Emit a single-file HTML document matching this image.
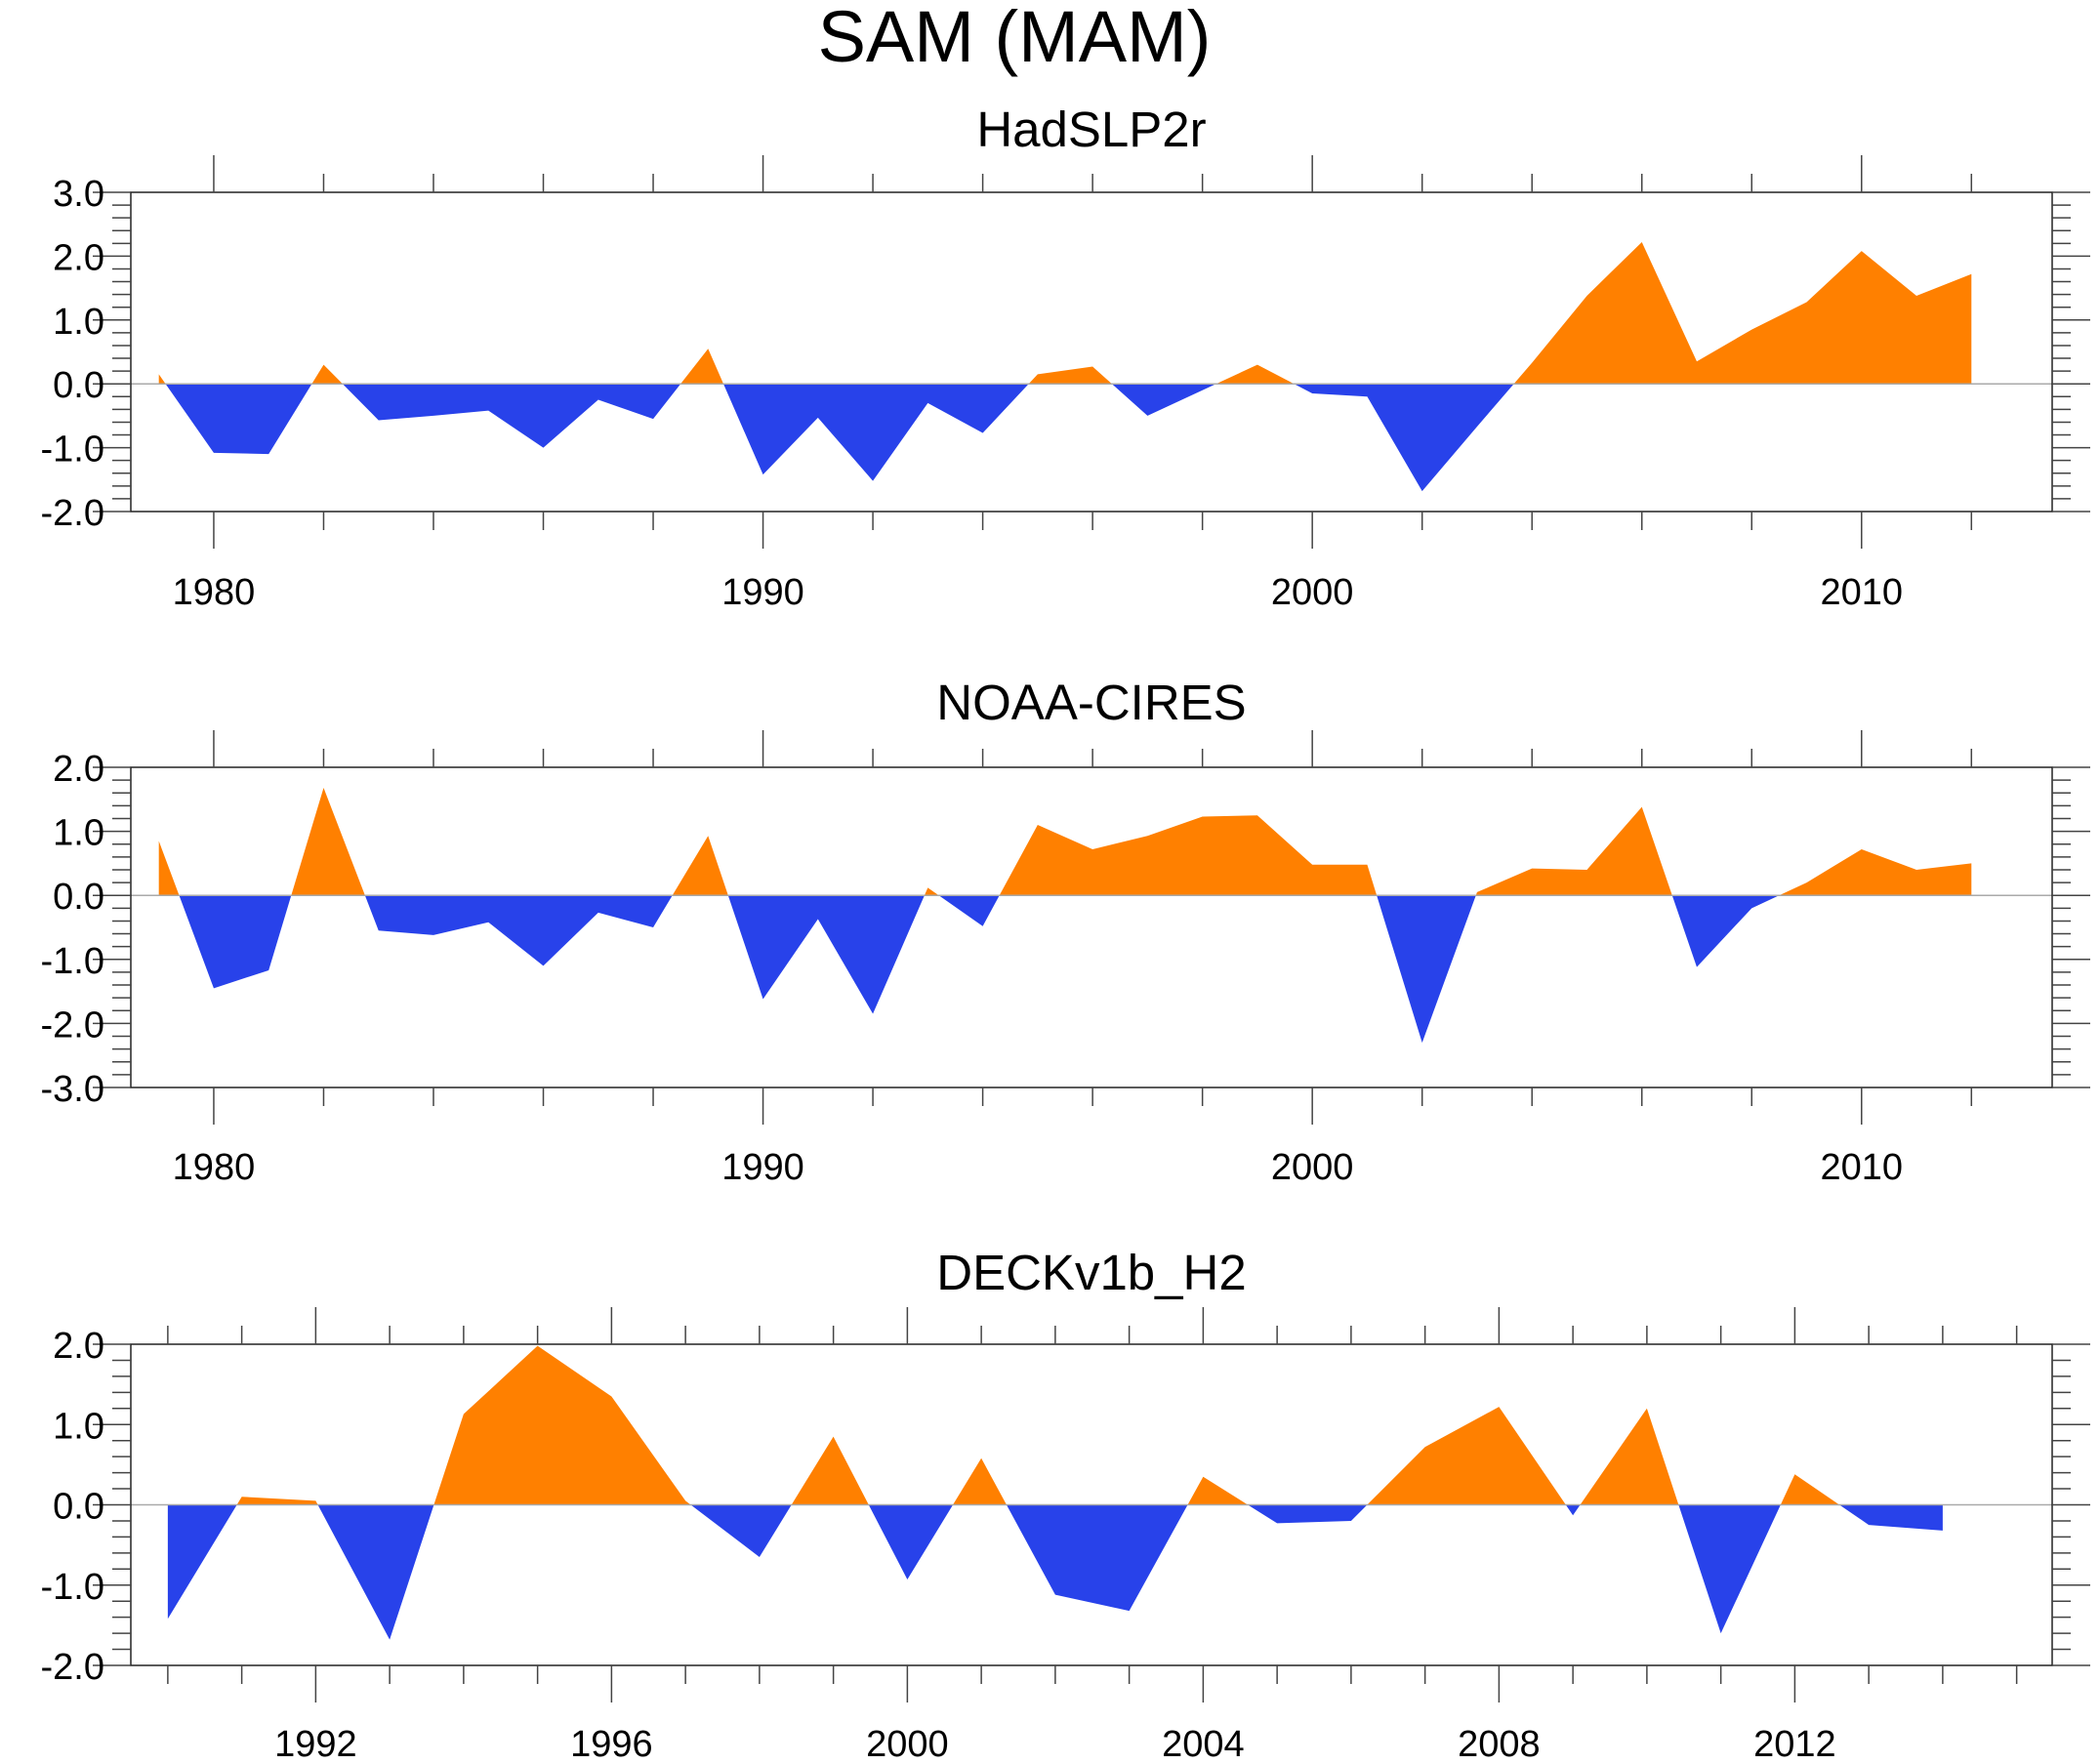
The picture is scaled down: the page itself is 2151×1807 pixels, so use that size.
<!DOCTYPE html>
<html><head><meta charset="utf-8">
<style>
html,body{margin:0;padding:0;background:#fff;}
svg{display:block;font-family:"Liberation Sans",sans-serif;}
</style></head>
<body>
<svg id="chart" width="2151" height="1807" viewBox="0 0 2151 1807" xmlns="http://www.w3.org/2000/svg">
<text x="1039" y="63" font-size="74" text-anchor="middle">SAM (MAM)</text>
</svg>
<script>
const hadYears = [1979,1980,1981,1982,1983,1984,1985,1986,1987,1988,1989,1990,1991,1992,1993,1994,1995,1996,1997,1998,1999,2000,2001,2002,2003,2004,2005,2006,2007,2008,2009,2010,2011,2012];
const hadValues = [0.15,-1.08,-1.1,0.3,-0.57,-0.5,-0.42,-1.0,-0.25,-0.55,0.55,-1.42,-0.53,-1.52,-0.3,-0.77,0.15,0.27,-0.5,-0.1,0.3,-0.15,-0.2,-1.68,-0.67,0.33,1.38,2.22,0.35,0.85,1.28,2.08,1.38,1.72];
const noaaYears = hadYears;
const noaaValues = [0.85,-1.45,-1.17,1.68,-0.55,-0.62,-0.42,-1.1,-0.27,-0.5,0.93,-1.62,-0.37,-1.85,0.12,-0.48,1.1,0.72,0.93,1.23,1.25,0.48,0.48,-2.3,0.05,0.42,0.4,1.38,-1.12,-0.2,0.2,0.72,0.4,0.5];
const deckYears = [1990,1991,1992,1993,1994,1995,1996,1997,1998,1999,2000,2001,2002,2003,2004,2005,2006,2007,2008,2009,2010,2011,2012,2013,2014];
const deckValues = [-1.42,0.1,0.05,-1.68,1.13,1.98,1.35,0.05,-0.65,0.85,-0.93,0.58,-1.12,-1.32,0.35,-0.23,-0.2,0.72,1.22,-0.13,1.2,-1.6,0.38,-0.25,-0.32];
const hadYTicks = [3,2,1,0,-1,-2];
const noaaYTicks = [2,1,0,-1,-2,-3];
const deckYTicks = [2,1,0,-1,-2];
const hadXLabels = [1980,1990,2000,2010];
const deckXLabels = [1992,1996,2000,2004,2008,2012];

const NS='http://www.w3.org/2000/svg';
const svg=document.getElementById('chart');
function mk(tag,attrs,parent){const e=document.createElementNS(NS,tag);for(const k in attrs)e.setAttribute(k,attrs[k]);(parent||svg).appendChild(e);return e;}

function panel(id,title,titleY,top,bottom,xmin,xmax,ymax,ymin,years,vals,yTicks,xLabels,majorStep,minorStep,labelY){
  const L=134,R=2102;
  const g=mk('g',{});
  
  
  const sx=v=>L+(v-xmin)/(xmax-xmin)*(R-L);
  const sy=v=>top+(ymax-v)/(ymax-ymin)*(bottom-top);
  const t=mk('text',{x:1118,y:titleY,'font-size':51,'text-anchor':'middle'},g);
  t.textContent=title;
  
  
  let d='M'+sx(years[0])+','+sy(0);
  for(let i=0;i<years.length;i++)d+=' L'+sx(years[i])+','+sy(vals[i]);
  d+=' L'+sx(years[years.length-1])+','+sy(0)+' Z';
  const cp=mk('clipPath',{id:id+'-pos'},g);mk('rect',{x:L,y:top,width:R-L,height:sy(0)-top},cp);
  const cn=mk('clipPath',{id:id+'-neg'},g);mk('rect',{x:L,y:sy(0),width:R-L,height:bottom-sy(0)},cn);
  const pa=mk('path',{d:d,fill:'#ff8000','clip-path':'url(#'+id+'-pos)'},g);
  
  
  const na=mk('path',{d:d,fill:'#2842ea','clip-path':'url(#'+id+'-neg)'},g);
  
  
  const zl=mk('line',{x1:L,x2:R,y1:sy(0),y2:sy(0),stroke:'#aaa','stroke-width':1.5},g);
  
  
  const fr=mk('rect',{x:L,y:top,width:R-L,height:bottom-top,fill:'none',stroke:'#222','stroke-width':1.5},g);
  
  
  for(let v=ymin;v<=ymax+1e-6;v+=0.2){
    const y=sy(v);const major=Math.abs(v-Math.round(v))<1e-6;const len=major?39:19;
    mk('line',{x1:L-len,x2:L,y1:y,y2:y,stroke:'#444','stroke-width':1.5},g);
    mk('line',{x1:R,x2:R+len,y1:y,y2:y,stroke:'#444','stroke-width':1.5},g);
  }
  yTicks.forEach(v=>{
    const tl=mk('text',{x:107,y:sy(v)+14,'font-size':38,'text-anchor':'end'},g);
    tl.textContent=v.toFixed(1);
    
    
  });
  for(let yr=Math.ceil(xmin);yr<=xmax;yr++){
    if((yr%minorStep)!==0)continue;
    const x=sx(yr);const major=(yr%majorStep)===0;const len=major?38:19;
    mk('line',{x1:x,x2:x,y1:top-len,y2:top,stroke:'#444','stroke-width':1.5},g);
    mk('line',{x1:x,x2:x,y1:bottom,y2:bottom+len,stroke:'#444','stroke-width':1.5},g);
  }
  xLabels.forEach(v=>{
    const xl=mk('text',{x:sx(v),y:labelY,'font-size':38,'text-anchor':'middle'},g);
    xl.textContent=v;
    
    
  });
}
panel('hadslp2r','HadSLP2r',150,197,524,1978.49,2013.47,3,-2,hadYears,hadValues,hadYTicks,hadXLabels,10,2,619);
panel('noaa-cires','NOAA-CIRES',737,786,1114,1978.49,2013.47,2,-3,noaaYears,noaaValues,noaaYTicks,hadXLabels,10,2,1208);
panel('deckv1b-h2','DECKv1b_H2',1321,1377,1706,1989.5,2015.48,2,-2,deckYears,deckValues,deckYTicks,deckXLabels,4,1,1799);
</script>
</body></html>
